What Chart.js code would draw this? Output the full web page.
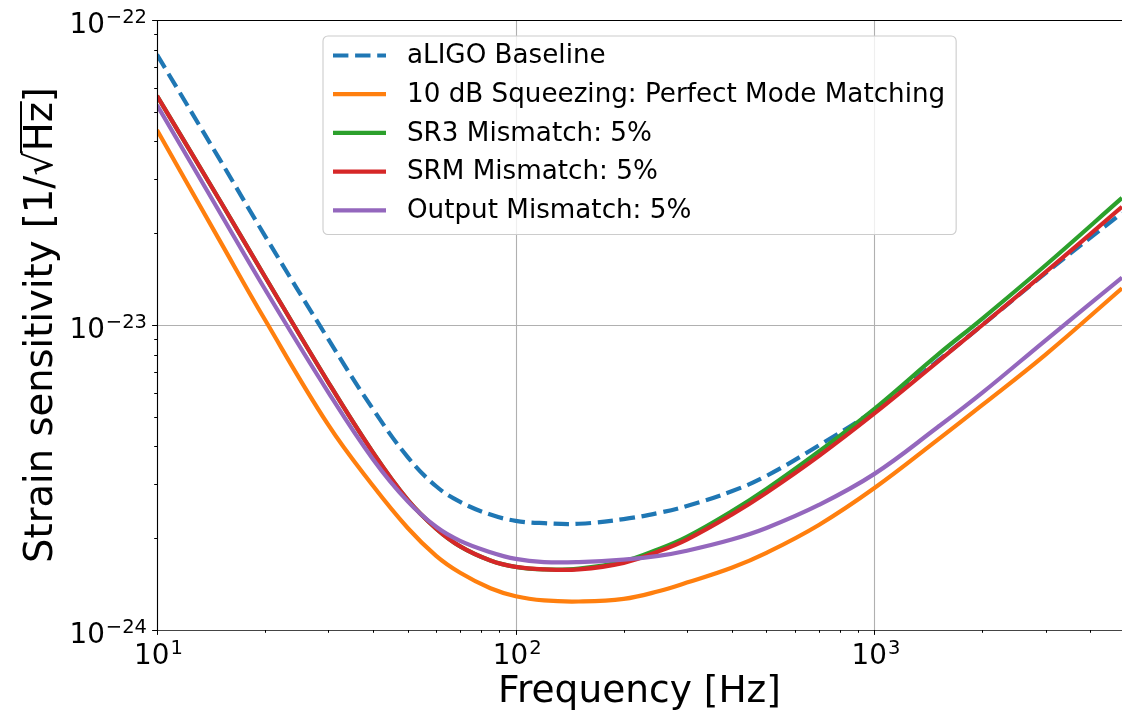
<!DOCTYPE html>
<html>
<head>
<meta charset="utf-8">
<script src="https://cdn.jsdelivr.net/npm/chart.js@4.4.1/dist/chart.umd.min.js"></script>
<style>
  html, body { margin: 0; padding: 0; background: #fff; }
  canvas { display: block; }
</style>
</head>
<body>
<canvas id="grafico-sensibilidade" width="1122" height="713"></canvas>
<script>
// frequencias em Hz
const frequencias = [10, 15, 20, 30, 40, 50, 60, 70, 85, 100, 120, 150, 200, 250, 300, 400, 500, 700, 1000, 1500, 2000, 3000, 4900];

// sensibilidade (1/sqrt(Hz))
const baseline = [77e-24, 34.7e-24, 19.6e-24, 9.0e-24, 5.30e-24, 3.69e-24, 2.96e-24, 2.63e-24, 2.39e-24, 2.28e-24, 2.24e-24, 2.23e-24, 2.31e-24, 2.42e-24, 2.55e-24, 2.85e-24, 3.20e-24, 4.03e-24, 5.26e-24, 7.62e-24, 10.0e-24, 14.8e-24, 23.3e-24];
const squeezing = [43.6e-24, 18.8e-24, 10.4e-24, 4.71e-24, 2.97e-24, 2.16e-24, 1.75e-24, 1.54e-24, 1.37e-24, 1.29e-24, 1.25e-24, 1.24e-24, 1.265e-24, 1.34e-24, 1.43e-24, 1.60e-24, 1.79e-24, 2.21e-24, 2.92e-24, 4.20e-24, 5.47e-24, 8.0e-24, 13.2e-24];
const sr3Mismatch = [56.4e-24, 25.5e-24, 14.4e-24, 6.50e-24, 3.82e-24, 2.67e-24, 2.15e-24, 1.88e-24, 1.69e-24, 1.61e-24, 1.58e-24, 1.59e-24, 1.68e-24, 1.84e-24, 2.02e-24, 2.45e-24, 2.90e-24, 3.85e-24, 5.31e-24, 7.98e-24, 10.5e-24, 15.7e-24, 26.1e-24];
const srmMismatch = [56.4e-24, 25.5e-24, 14.4e-24, 6.50e-24, 3.82e-24, 2.67e-24, 2.15e-24, 1.88e-24, 1.69e-24, 1.61e-24, 1.58e-24, 1.58e-24, 1.66e-24, 1.81e-24, 1.98e-24, 2.39e-24, 2.82e-24, 3.72e-24, 5.13e-24, 7.57e-24, 10.0e-24, 14.9e-24, 24.4e-24];
const outputMismatch = [52.6e-24, 23.3e-24, 13.1e-24, 6.03e-24, 3.63e-24, 2.64e-24, 2.18e-24, 1.96e-24, 1.80e-24, 1.71e-24, 1.67e-24, 1.67e-24, 1.70e-24, 1.75e-24, 1.82e-24, 1.98e-24, 2.16e-24, 2.57e-24, 3.25e-24, 4.62e-24, 6.0e-24, 8.91e-24, 14.3e-24];

const rotulos = [
  "aLIGO Baseline",
  "10 dB Squeezing: Perfect Mode Matching",
  "SR3 Mismatch: 5%",
  "SRM Mismatch: 5%",
  "Output Mismatch: 5%"
];

// marcas principais dos eixos (expoentes de 10)
const expoentesX = [1, 2, 3];
const expoentesY = [-24, -23, -22];

const FONTE = "'DejaVu Sans', 'Liberation Sans', sans-serif";

function pontos(valores) {
  return frequencias.map((f, i) => ({ x: f, y: valores[i] }));
}

function desenharPotencia(ctx, expoente, x, yBase, alinhamento) {
  const base = "10";
  const exp = String(expoente).replace("-", "\u2212");
  ctx.font = "27.8px " + FONTE;
  const wb = ctx.measureText(base).width;
  ctx.font = "19.5px " + FONTE;
  const we = ctx.measureText(exp).width;
  let inicio;
  if (alinhamento === "center") inicio = x - (wb + we) / 2;
  else inicio = x - (wb + we);
  ctx.textAlign = "left";
  ctx.textBaseline = "alphabetic";
  ctx.font = "27.8px " + FONTE;
  ctx.fillText(base, inicio, yBase);
  ctx.font = "19.5px " + FONTE;
  ctx.fillText(exp, inicio + wb + 1, yBase - 10);
}

const eixosEstilo = {
  id: "eixosEstilo",
  beforeDatasetsDraw(chart) {
    const { ctx, chartArea: a, scales: { x, y } } = chart;
    ctx.save();
    ctx.strokeStyle = "#b0b0b0";
    ctx.lineWidth = 1.1;
    expoentesX.forEach((e) => {
      const px = Math.round(x.getPixelForValue(Math.pow(10, e))) + 0.5;
      ctx.beginPath();
      ctx.moveTo(px, a.top);
      ctx.lineTo(px, a.bottom);
      ctx.stroke();
    });
    expoentesY.forEach((e) => {
      const py = Math.round(y.getPixelForValue(Math.pow(10, e))) + 0.5;
      ctx.beginPath();
      ctx.moveTo(a.left, py);
      ctx.lineTo(a.right, py);
      ctx.stroke();
    });
    ctx.restore();
  },
  afterDatasetsDraw(chart) {
    const { ctx, chartArea: a, scales: { x, y } } = chart;
    ctx.save();
    // bordas
    ctx.lineWidth = 1.1;
    ctx.strokeStyle = "#000";
    ctx.beginPath();
    ctx.moveTo(a.left + 0.5, a.bottom);
    ctx.lineTo(a.left + 0.5, a.top + 0.5);
    ctx.lineTo(a.right, a.top + 0.5);
    ctx.stroke();
    ctx.strokeStyle = "#444";
    ctx.beginPath();
    ctx.moveTo(a.left, a.bottom + 0.5);
    ctx.lineTo(a.right, a.bottom + 0.5);
    ctx.stroke();

    // marcas
    ctx.strokeStyle = "#000";
    ctx.lineWidth = 1;
    for (let e = expoentesX[0]; e <= expoentesX[expoentesX.length - 1]; e++) {
      for (let m = 1; m <= 9; m++) {
        const v = m * Math.pow(10, e);
        if (v < x.min || v > x.max) continue;
        const px = Math.round(x.getPixelForValue(v)) + 0.5;
        const len = m === 1 ? 4.9 : 2.8;
        ctx.beginPath();
        ctx.moveTo(px, a.bottom);
        ctx.lineTo(px, a.bottom + len);
        ctx.stroke();
      }
    }
    for (let e = expoentesY[0]; e <= expoentesY[expoentesY.length - 1]; e++) {
      for (let m = 1; m <= 9; m++) {
        const v = m * Math.pow(10, e);
        if (v < y.min * 0.999 || v > y.max * 1.001) continue;
        const py = Math.round(y.getPixelForValue(v)) + 0.5;
        const len = m === 1 ? 4.9 : 2.8;
        ctx.beginPath();
        ctx.moveTo(a.left, py);
        ctx.lineTo(a.left - len, py);
        ctx.stroke();
      }
    }

    // rotulos das marcas
    ctx.fillStyle = "#000";
    expoentesX.forEach((e) => {
      const px = x.getPixelForValue(Math.pow(10, e));
      desenharPotencia(ctx, e, px + 1, a.bottom + 34, "center");
    });
    expoentesY.forEach((e) => {
      const py = y.getPixelForValue(Math.pow(10, e));
      desenharPotencia(ctx, e, a.left - 11, py + 12.5, "right");
    });

    // titulo do eixo x
    ctx.font = "37.5px " + FONTE;
    ctx.textAlign = "center";
    ctx.textBaseline = "alphabetic";
    ctx.fillText("Frequency [Hz]", (a.left + a.right) / 2, 702);

    // titulo do eixo y com raiz
    ctx.font = "38.5px " + FONTE;
    ctx.translate(52, (a.top + a.bottom) / 2);
    ctx.rotate(-Math.PI / 2);
    const p1 = "Strain sensitivity [1/";
    const raiz = "\u221A";
    const p2 = "Hz";
    const p3 = "]";
    const w1 = ctx.measureText(p1).width;
    const wr = ctx.measureText(raiz).width;
    const w2 = ctx.measureText(p2).width;
    const w3 = ctx.measureText(p3).width;
    let cx = -(w1 + wr + w2 + w3) / 2;
    ctx.textAlign = "left";
    ctx.fillText(p1, cx, 0);
    cx += w1;
    const mr = ctx.measureText(raiz);
    ctx.fillText(raiz, cx, 0);
    const topo = -mr.actualBoundingBoxAscent;
    ctx.lineWidth = 2;
    ctx.beginPath();
    ctx.moveTo(cx + wr - 2, topo + 1);
    ctx.lineTo(cx + wr + w2 + 1, topo + 1);
    ctx.stroke();
    cx += wr;
    ctx.fillText(p2, cx, 0);
    cx += w2;
    ctx.fillText(p3, cx, 0);
    ctx.restore();
  }
};

const legendaInterna = {
  id: "legendaInterna",
  afterDraw(chart) {
    const ctx = chart.ctx;
    const series = chart.data.datasets;
    ctx.save();
    ctx.font = "26.2px " + FONTE;
    const larguraTexto = Math.max(...series.map((d) => ctx.measureText(d.label).width));
    const cx = 323, cy = 36, passo = 38.7;
    const textoX = 407;
    const w = textoX - cx + larguraTexto + 11;
    const h = passo * series.length + 5;
    const r = 5;
    ctx.beginPath();
    ctx.moveTo(cx + r, cy);
    ctx.arcTo(cx + w, cy, cx + w, cy + h, r);
    ctx.arcTo(cx + w, cy + h, cx, cy + h, r);
    ctx.arcTo(cx, cy + h, cx, cy, r);
    ctx.arcTo(cx, cy, cx + w, cy, r);
    ctx.closePath();
    ctx.fillStyle = "rgba(255,255,255,0.8)";
    ctx.fill();
    ctx.strokeStyle = "#cccccc";
    ctx.lineWidth = 1.1;
    ctx.stroke();

    series.forEach((d, i) => {
      const ly = cy + 19.5 + i * passo;
      ctx.strokeStyle = d.borderColor;
      ctx.lineWidth = d.borderWidth;
      ctx.setLineDash(d.borderDash || []);
      ctx.beginPath();
      ctx.moveTo(333, ly);
      ctx.lineTo(386, ly);
      ctx.stroke();
      ctx.setLineDash([]);
      ctx.fillStyle = "#000";
      ctx.textAlign = "left";
      ctx.textBaseline = "middle";
      ctx.fillText(d.label, textoX, ly + 1);
    });
    ctx.restore();
  }
};

const cores = ["#1f77b4", "#ff7f0e", "#2ca02c", "#d62728", "#9467bd"];
const valores = [baseline, squeezing, sr3Mismatch, srmMismatch, outputMismatch];

new Chart(document.getElementById("grafico-sensibilidade"), {
  type: "line",
  data: {
    datasets: valores.map((v, i) => ({
      label: rotulos[i],
      data: pontos(v),
      borderColor: cores[i],
      backgroundColor: cores[i],
      borderWidth: 4.2,
      borderDash: i === 0 ? [15.4, 6.7] : [],
      pointRadius: 0,
      fill: false,
      tension: 0.4,
      clip: 0,
      order: valores.length - i
    }))
  },
  options: {
    responsive: false,
    animation: false,
    devicePixelRatio: 1,
    layout: { padding: { top: 20, right: 0, left: 0, bottom: 0 } },
    plugins: { legend: { display: false }, tooltip: { enabled: false } },
    scales: {
      x: {
        type: "logarithmic",
        min: 10,
        max: 4900,
        ticks: { display: false },
        grid: { display: false },
        border: { display: false },
        afterFit(s) { s.height = 83; }
      },
      y: {
        type: "logarithmic",
        min: 1e-24,
        max: 1e-22,
        ticks: { display: false },
        grid: { display: false },
        border: { display: false },
        afterFit(s) { s.width = 157; }
      }
    }
  },
  plugins: [eixosEstilo, legendaInterna]
});
</script>
</body>
</html>
